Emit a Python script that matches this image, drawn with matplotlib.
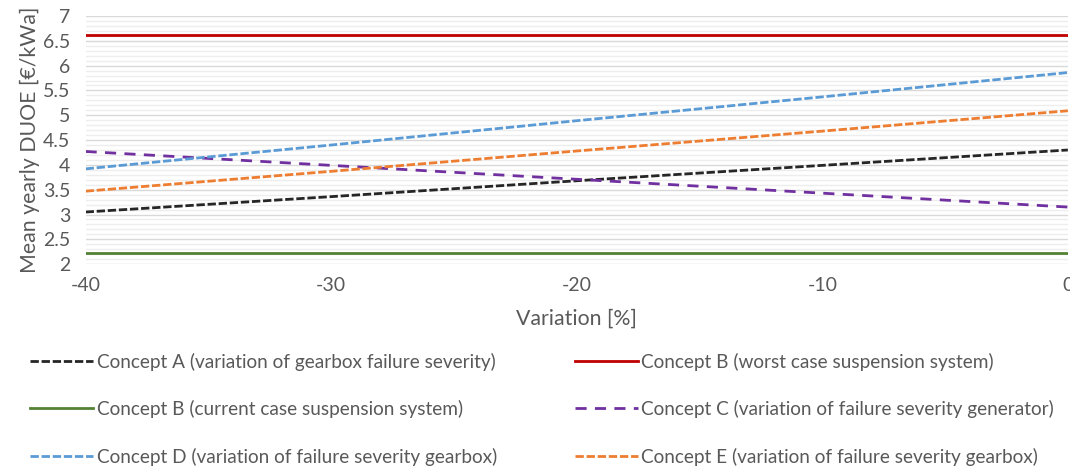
import matplotlib
matplotlib.use("Agg")
import matplotlib.pyplot as plt
from matplotlib.ticker import MultipleLocator

plt.rcParams["font.family"] = ["Lato", "DejaVu Sans"]
plt.rcParams["axes.unicode_minus"] = False

variation = [-40, -30, -20, -10, 0]
concept_a = [3.05, 3.36, 3.68, 3.99, 4.30]
concept_b_worst = [6.62, 6.62, 6.62, 6.62, 6.62]
concept_b_current = [2.22, 2.22, 2.22, 2.22, 2.22]
concept_c = [4.27, 3.99, 3.71, 3.43, 3.15]
concept_d = [3.92, 4.40, 4.89, 5.37, 5.86]
concept_e = [3.47, 3.87, 4.28, 4.68, 5.09]

GREY = "#595959"

fig = plt.figure(figsize=(10.7, 4.7), dpi=100)
ax = fig.add_axes([0.080, 0.438, 0.918, 0.528])

lw = 2.0
sysdash = (0, (3, 1))
h_a, = ax.plot(variation, concept_a, color="#262626", lw=lw, ls=sysdash,
               label="Concept A (variation of gearbox failure severity)")
h_bw, = ax.plot(variation, concept_b_worst, color="#C00000", lw=lw,
                label="Concept B (worst case suspension system)")
h_bc, = ax.plot(variation, concept_b_current, color="#548235", lw=lw,
                label="Concept B (current case suspension system)")
h_c, = ax.plot(variation, concept_c, color="#7030A0", lw=lw, ls=(0, (4, 3)),
               label="Concept C (variation of failure severity generator)")
h_d, = ax.plot(variation, concept_d, color="#5B9BD5", lw=lw, ls=sysdash,
               label="Concept D (variation of failure severity gearbox)")
h_e, = ax.plot(variation, concept_e, color="#ED7D31", lw=lw, ls=sysdash,
               label="Concept E (variation of failure severity gearbox)")

ax.set_xlim(-40, 0)
ax.set_ylim(2, 7)
ax.xaxis.set_major_locator(MultipleLocator(10))
ax.yaxis.set_major_locator(MultipleLocator(0.5))
ax.yaxis.set_minor_locator(MultipleLocator(0.1))
ax.set_yticklabels([f"{v:g}" for v in ax.get_yticks()])
ax.grid(axis="y", which="major", color="#D9D9D9", lw=1.0)
ax.grid(axis="y", which="minor", color="#EDEDED", lw=1.0)
ax.set_axisbelow(True)
for s in ax.spines.values():
    s.set_visible(False)
ax.tick_params(which="both", length=0, labelsize=14, colors=GREY)
ax.tick_params(axis="y", pad=11)
ax.tick_params(axis="x", pad=9)
ax.set_xlabel("Variation [%]", fontsize=15.3, color=GREY, labelpad=11)
ax.set_ylabel("Mean yearly DUOE [€/kWa]", fontsize=15.3, color=GREY, labelpad=2)

handles = [h_a, h_bc, h_d, h_bw, h_c, h_e]
leg = fig.legend(handles=handles, loc="upper left", bbox_to_anchor=(0.028, 0.250),
                 ncol=2, frameon=False, fontsize=13.7, handlelength=3.3,
                 handletextpad=0.2, columnspacing=4.1, labelspacing=1.55,
                 borderpad=0, borderaxespad=0)
for t in leg.get_texts():
    t.set_color(GREY)

fig.savefig("out.png", dpi=100)
